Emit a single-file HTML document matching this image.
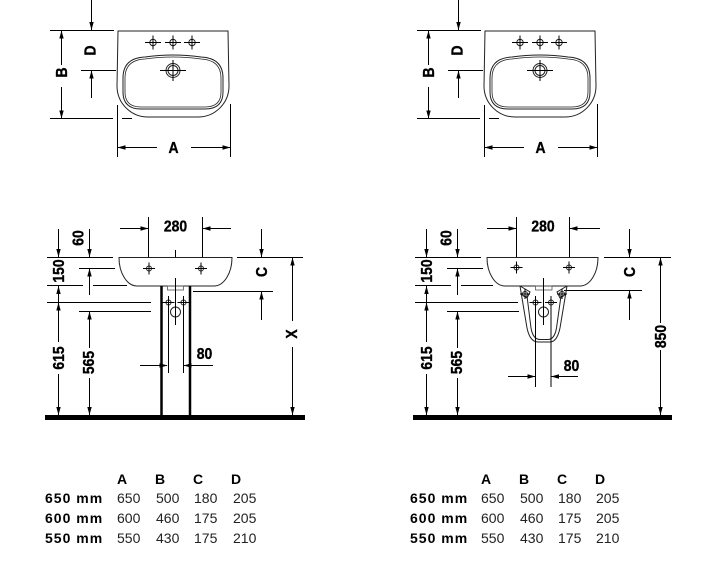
<!DOCTYPE html>
<html>
<head>
<meta charset="utf-8">
<style>
html,body{margin:0;padding:0;background:#fff;}
body{width:709px;height:578px;overflow:hidden;}
svg{display:block;}
.dl{font-family:"Liberation Sans",sans-serif;font-weight:bold;font-size:15.5px;fill:#000;stroke:#000;stroke-width:0.35px;}
.tb{font-family:"Liberation Sans",sans-serif;font-size:14px;fill:#222;}
.tbb{font-family:"Liberation Sans",sans-serif;font-size:14px;font-weight:bold;fill:#000;letter-spacing:1px;}
.th{font-family:"Liberation Sans",sans-serif;font-size:14px;font-weight:bold;fill:#000;}
</style>
</head>
<body>
<svg width="709" height="578" viewBox="0 0 709 578" xmlns="http://www.w3.org/2000/svg">

<!-- ================= TOP LEFT PLAN ================= -->
<g id="topL">
 <g stroke="#000" stroke-width="1" fill="none">
  <line x1="91.5" y1="0" x2="91.5" y2="30"/>
  <line x1="50" y1="30.5" x2="114" y2="30.5"/>
  <line x1="81" y1="70.5" x2="116" y2="70.5"/>
  <line x1="91.5" y1="71" x2="91.5" y2="98"/>
  <line x1="50" y1="118.5" x2="113" y2="118.5"/>
  <line x1="122" y1="118.5" x2="132" y2="118.5"/>
  <line x1="61.5" y1="31" x2="61.5" y2="65"/>
  <line x1="61.5" y1="87" x2="61.5" y2="118"/>
  <line x1="117.5" y1="105" x2="117.5" y2="157"/>
  <line x1="230.5" y1="104" x2="230.5" y2="157"/>
  <line x1="118" y1="147.5" x2="157" y2="147.5"/>
  <line x1="191" y1="147.5" x2="230" y2="147.5"/>
 </g>
 <g fill="#000">
  <polygon points="91.5,30 89.3,22 93.7,22"/>
  <polygon points="91.5,70.5 89.3,78.5 93.7,78.5"/>
  <polygon points="61.5,30.5 59.3,38.5 63.7,38.5"/>
  <polygon points="61.5,118.5 59.3,110.5 63.7,110.5"/>
  <polygon points="117.5,147.5 125.5,145.3 125.5,149.7"/>
  <polygon points="230.5,147.5 222.5,145.3 222.5,149.7"/>
 </g>
 <g stroke="#222" stroke-width="1" fill="none">
  <path d="M118,31 H228 L229,86 A31,31 0 0 1 198,117 H148 A31,31 0 0 1 117,86 Z"/>
  <path d="M123,78 Q123,58 145,57 Q173,53 201,57 Q223,58 223,78 V92 Q223,109 205,109 H141 Q123,109 123,92 Z"/>
  <path d="M125,78 Q125,60 145,59 Q173,55 201,59 Q221,60 221,78 V92 Q221,107 205,107 H141 Q125,107 125,92 Z" stroke-width="0.8"/>
  <circle cx="153" cy="42.5" r="3.2"/>
  <circle cx="173" cy="42.5" r="3.2"/>
  <circle cx="192" cy="42.5" r="3.2"/>
  <circle cx="173" cy="70.5" r="7"/>
  <circle cx="173" cy="70.5" r="5"/>
 </g>
 <g stroke="#000" stroke-width="1">
  <line x1="145" y1="42.5" x2="161" y2="42.5"/><line x1="153" y1="35.5" x2="153" y2="49.5"/>
  <line x1="165" y1="42.5" x2="181" y2="42.5"/><line x1="173" y1="35.5" x2="173" y2="49.5"/>
  <line x1="184" y1="42.5" x2="200" y2="42.5"/><line x1="192" y1="35.5" x2="192" y2="49.5"/>
  <line x1="160" y1="70.5" x2="186" y2="70.5"/><line x1="173" y1="60" x2="173" y2="81"/>
 </g>
 <text class="dl" text-anchor="middle" transform="translate(90,50.5) rotate(-90) scale(0.9,1)" y="5.6">D</text>
 <text class="dl" text-anchor="middle" transform="translate(61.5,72.5) rotate(-90) scale(0.9,1)" y="5.6">B</text>
 <text class="dl" text-anchor="middle" transform="translate(173.5,147.5) scale(0.9,1)" y="5.6">A</text>
</g>

<!-- ================= TOP RIGHT PLAN ================= -->
<g transform="translate(367,0)">
 <g stroke="#000" stroke-width="1" fill="none">
  <line x1="91.5" y1="0" x2="91.5" y2="30"/>
  <line x1="50" y1="30.5" x2="114" y2="30.5"/>
  <line x1="81" y1="70.5" x2="116" y2="70.5"/>
  <line x1="91.5" y1="71" x2="91.5" y2="98"/>
  <line x1="50" y1="118.5" x2="113" y2="118.5"/>
  <line x1="122" y1="118.5" x2="132" y2="118.5"/>
  <line x1="61.5" y1="31" x2="61.5" y2="65"/>
  <line x1="61.5" y1="87" x2="61.5" y2="118"/>
  <line x1="117.5" y1="105" x2="117.5" y2="157"/>
  <line x1="230.5" y1="104" x2="230.5" y2="157"/>
  <line x1="118" y1="147.5" x2="157" y2="147.5"/>
  <line x1="191" y1="147.5" x2="230" y2="147.5"/>
 </g>
 <g fill="#000">
  <polygon points="91.5,30 89.3,22 93.7,22"/>
  <polygon points="91.5,70.5 89.3,78.5 93.7,78.5"/>
  <polygon points="61.5,30.5 59.3,38.5 63.7,38.5"/>
  <polygon points="61.5,118.5 59.3,110.5 63.7,110.5"/>
  <polygon points="117.5,147.5 125.5,145.3 125.5,149.7"/>
  <polygon points="230.5,147.5 222.5,145.3 222.5,149.7"/>
 </g>
 <g stroke="#222" stroke-width="1" fill="none">
  <path d="M118,31 H228 L229,86 A31,31 0 0 1 198,117 H148 A31,31 0 0 1 117,86 Z"/>
  <path d="M123,78 Q123,58 145,57 Q173,53 201,57 Q223,58 223,78 V92 Q223,109 205,109 H141 Q123,109 123,92 Z"/>
  <path d="M125,78 Q125,60 145,59 Q173,55 201,59 Q221,60 221,78 V92 Q221,107 205,107 H141 Q125,107 125,92 Z" stroke-width="0.8"/>
  <circle cx="153" cy="42.5" r="3.2"/>
  <circle cx="173" cy="42.5" r="3.2"/>
  <circle cx="192" cy="42.5" r="3.2"/>
  <circle cx="173" cy="70.5" r="7"/>
  <circle cx="173" cy="70.5" r="5"/>
 </g>
 <g stroke="#000" stroke-width="1">
  <line x1="145" y1="42.5" x2="161" y2="42.5"/><line x1="153" y1="35.5" x2="153" y2="49.5"/>
  <line x1="165" y1="42.5" x2="181" y2="42.5"/><line x1="173" y1="35.5" x2="173" y2="49.5"/>
  <line x1="184" y1="42.5" x2="200" y2="42.5"/><line x1="192" y1="35.5" x2="192" y2="49.5"/>
  <line x1="160" y1="70.5" x2="186" y2="70.5"/><line x1="173" y1="60" x2="173" y2="81"/>
 </g>
 <text class="dl" text-anchor="middle" transform="translate(90,50.5) rotate(-90) scale(0.9,1)" y="5.6">D</text>
 <text class="dl" text-anchor="middle" transform="translate(61.5,72.5) rotate(-90) scale(0.9,1)" y="5.6">B</text>
 <text class="dl" text-anchor="middle" transform="translate(173.5,147.5) scale(0.9,1)" y="5.6">A</text>
</g>

<!-- ================= BOTTOM LEFT ELEVATION ================= -->
<g>
 <g stroke="#000" stroke-width="1" fill="none">
  <line x1="148.5" y1="217" x2="148.5" y2="257"/>
  <line x1="202.5" y1="217" x2="202.5" y2="257"/>
  <line x1="175.5" y1="250" x2="175.5" y2="257"/>
  <line x1="120" y1="228.5" x2="148" y2="228.5"/>
  <line x1="203" y1="228.5" x2="231" y2="228.5"/>
  <line x1="47" y1="257.5" x2="113" y2="257.5"/>
  <line x1="237" y1="257.5" x2="303" y2="257.5"/>
  <line x1="58.5" y1="229" x2="58.5" y2="257"/>
  <line x1="58.5" y1="286" x2="58.5" y2="342"/>
  <line x1="58.5" y1="374" x2="58.5" y2="415"/>
  <line x1="89.5" y1="229" x2="89.5" y2="257"/>
  <line x1="89.5" y1="268.5" x2="89.5" y2="295"/>
  <line x1="89.5" y1="311.5" x2="89.5" y2="348"/>
  <line x1="89.5" y1="378" x2="89.5" y2="415"/>
  <line x1="79" y1="268.5" x2="115" y2="268.5"/>
  <line x1="47" y1="285.5" x2="83" y2="285.5"/>
  <line x1="93" y1="285.5" x2="127" y2="285.5"/>
  <line x1="47" y1="302.5" x2="151" y2="302.5"/>
  <line x1="79" y1="311.5" x2="151" y2="311.5"/>
  <line x1="261.5" y1="229" x2="261.5" y2="257"/>
  <line x1="261.5" y1="291.5" x2="261.5" y2="320"/>
  <line x1="193" y1="291.5" x2="273" y2="291.5"/>
  <line x1="292.5" y1="257.5" x2="292.5" y2="321"/>
  <line x1="292.5" y1="347" x2="292.5" y2="415"/>
 </g>
 <g fill="#000">
  <polygon points="148.5,228.5 140.5,226.3 140.5,230.7"/>
  <polygon points="202.5,228.5 210.5,226.3 210.5,230.7"/>
  <polygon points="58.5,257 56.3,249 60.7,249"/>
  <polygon points="58.5,286 56.3,294 60.7,294"/>
  <polygon points="58.5,302.5 56.3,310.5 60.7,310.5"/>
  <polygon points="58.5,415 56.3,407 60.7,407"/>
  <polygon points="89.5,257 87.3,249 91.7,249"/>
  <polygon points="89.5,268.5 87.3,276.5 91.7,276.5"/>
  <polygon points="89.5,311.5 87.3,319.5 91.7,319.5"/>
  <polygon points="89.5,415 87.3,407 91.7,407"/>
  <polygon points="261.5,257 259.3,249 263.7,249"/>
  <polygon points="261.5,291.5 259.3,299.5 263.7,299.5"/>
  <polygon points="292.5,257.5 290.3,265.5 294.7,265.5"/>
  <polygon points="292.5,415 290.3,407 294.7,407"/>
  <rect x="45" y="415" width="260" height="5"/>
 </g>
 <g stroke="#222" stroke-width="1" fill="none">
  <path d="M119,257.5 H232 A18,28.5 0 0 1 214,286 H137 A18,28.5 0 0 1 119,257.5 Z"/>
  <circle cx="149" cy="268.5" r="2.5"/>
  <circle cx="201" cy="268.5" r="2.5"/>
  <rect x="167.5" y="286" width="16" height="4" stroke="#555" stroke-width="0.8"/>
  <circle cx="168.5" cy="302.5" r="2.5"/>
  <circle cx="183.5" cy="302.5" r="2.5"/>
  <circle cx="175.5" cy="312" r="5"/>
 </g>
 <g stroke="#000" stroke-width="1">
  <line x1="143" y1="268.5" x2="155" y2="268.5"/><line x1="149" y1="262.5" x2="149" y2="274.5"/>
  <line x1="195" y1="268.5" x2="207" y2="268.5"/><line x1="201" y1="262.5" x2="201" y2="274.5"/>
  <line x1="162.5" y1="302.5" x2="174.5" y2="302.5"/><line x1="177.5" y1="302.5" x2="189.5" y2="302.5"/>
  <line x1="175.5" y1="278" x2="175.5" y2="325"/>
  <line x1="168.5" y1="296" x2="168.5" y2="373"/>
  <line x1="183.5" y1="296" x2="183.5" y2="373"/>
  <line x1="140" y1="365.5" x2="167" y2="365.5"/>
  <line x1="184" y1="365.5" x2="213" y2="365.5"/>
 </g>
 <g fill="#000">
  <polygon points="167.5,365.5 159.5,363.3 159.5,367.7"/>
  <polygon points="183.5,365.5 191.5,363.3 191.5,367.7"/>
 </g>
 <g stroke="#000" stroke-width="2.5">
  <line x1="161.5" y1="286" x2="161.5" y2="415"/>
  <line x1="190" y1="286" x2="190" y2="415"/>
 </g>
 <text class="dl" text-anchor="middle" transform="translate(175.5,226) scale(0.9,1)" y="5.6">280</text>
 <text class="dl" text-anchor="middle" transform="translate(78,238) rotate(-90) scale(0.9,1)" y="5.6">60</text>
 <text class="dl" text-anchor="middle" transform="translate(58.5,271) rotate(-90) scale(0.9,1)" y="5.6">150</text>
 <text class="dl" text-anchor="middle" transform="translate(58.5,358) rotate(-90) scale(0.9,1)" y="5.6">615</text>
 <text class="dl" text-anchor="middle" transform="translate(88.5,362.5) rotate(-90) scale(0.9,1)" y="5.6">565</text>
 <text class="dl" text-anchor="middle" transform="translate(204.5,353.5) scale(0.9,1)" y="5.6">80</text>
 <text class="dl" text-anchor="middle" transform="translate(261.5,272) rotate(-90) scale(0.9,1)" y="5.6">C</text>
 <text class="dl" text-anchor="middle" transform="translate(291.5,334) rotate(-90) scale(0.9,1)" y="5.6">X</text>
</g>

<!-- ================= BOTTOM RIGHT ELEVATION ================= -->
<g transform="translate(368,0)">
 <g stroke="#000" stroke-width="1" fill="none">
  <line x1="148.5" y1="217" x2="148.5" y2="257"/>
  <line x1="201.5" y1="217" x2="201.5" y2="257"/>
  <line x1="119" y1="228.5" x2="148" y2="228.5"/>
  <line x1="202" y1="228.5" x2="232" y2="228.5"/>
  <line x1="47" y1="257.5" x2="113" y2="257.5"/>
  <line x1="236" y1="257.5" x2="303" y2="257.5"/>
  <line x1="58.5" y1="229" x2="58.5" y2="257"/>
  <line x1="58.5" y1="286" x2="58.5" y2="342"/>
  <line x1="58.5" y1="374" x2="58.5" y2="415"/>
  <line x1="89.5" y1="229" x2="89.5" y2="257"/>
  <line x1="89.5" y1="268.5" x2="89.5" y2="295"/>
  <line x1="89.5" y1="311.5" x2="89.5" y2="348"/>
  <line x1="89.5" y1="378" x2="89.5" y2="415"/>
  <line x1="79" y1="268.5" x2="115" y2="268.5"/>
  <line x1="47" y1="285.5" x2="83" y2="285.5"/>
  <line x1="93" y1="285.5" x2="125" y2="285.5"/>
  <line x1="47" y1="302.5" x2="150" y2="302.5"/>
  <line x1="79" y1="311.5" x2="151" y2="311.5"/>
  <line x1="261.5" y1="229" x2="261.5" y2="257"/>
  <line x1="261.5" y1="290.5" x2="261.5" y2="320"/>
  <line x1="196" y1="290.5" x2="274" y2="290.5"/>
  <line x1="292.5" y1="257.5" x2="292.5" y2="323"/>
  <line x1="292.5" y1="350" x2="292.5" y2="415"/>
 </g>
 <g fill="#000">
  <polygon points="148.5,228.5 140.5,226.3 140.5,230.7"/>
  <polygon points="201.5,228.5 209.5,226.3 209.5,230.7"/>
  <polygon points="58.5,257 56.3,249 60.7,249"/>
  <polygon points="58.5,286 56.3,294 60.7,294"/>
  <polygon points="58.5,302.5 56.3,310.5 60.7,310.5"/>
  <polygon points="58.5,415 56.3,407 60.7,407"/>
  <polygon points="89.5,257 87.3,249 91.7,249"/>
  <polygon points="89.5,268.5 87.3,276.5 91.7,276.5"/>
  <polygon points="89.5,311.5 87.3,319.5 91.7,319.5"/>
  <polygon points="89.5,415 87.3,407 91.7,407"/>
  <polygon points="261.5,257 259.3,249 263.7,249"/>
  <polygon points="261.5,290.5 259.3,298.5 263.7,298.5"/>
  <polygon points="292.5,257.5 290.3,265.5 294.7,265.5"/>
  <polygon points="292.5,415 290.3,407 294.7,407"/>
  <rect x="45" y="415" width="259" height="5"/>
 </g>
 <g stroke="#222" stroke-width="1" fill="none">
  <path d="M119,257.5 H230 A18,28.5 0 0 1 212,286 H137 A18,28.5 0 0 1 119,257.5 Z"/>
  <circle cx="148.5" cy="267.5" r="2.5"/>
  <circle cx="201" cy="267.5" r="2.5"/>
 </g>
 <g stroke="#000" stroke-width="1">
  <line x1="142.5" y1="267.5" x2="154.5" y2="267.5"/><line x1="148.5" y1="261.5" x2="148.5" y2="273.5"/>
  <line x1="195" y1="267.5" x2="207" y2="267.5"/><line x1="201" y1="261.5" x2="201" y2="273.5"/>
 </g>
 <text class="dl" text-anchor="middle" transform="translate(175,226) scale(0.9,1)" y="5.6">280</text>
 <text class="dl" text-anchor="middle" transform="translate(78,238) rotate(-90) scale(0.9,1)" y="5.6">60</text>
 <text class="dl" text-anchor="middle" transform="translate(58.5,271) rotate(-90) scale(0.9,1)" y="5.6">150</text>
 <text class="dl" text-anchor="middle" transform="translate(58.5,358) rotate(-90) scale(0.9,1)" y="5.6">615</text>
 <text class="dl" text-anchor="middle" transform="translate(88.5,362.5) rotate(-90) scale(0.9,1)" y="5.6">565</text>
 <text class="dl" text-anchor="middle" transform="translate(261.5,272) rotate(-90) scale(0.9,1)" y="5.6">C</text>
 <text class="dl" text-anchor="middle" transform="translate(292.5,336.5) rotate(-90) scale(0.9,1)" y="5.6">850</text>
</g>
<!-- semi pedestal (absolute) -->
<g stroke="#222" stroke-width="1" fill="none">
 <path d="M520,286 L527,328 Q530,342 538,342 H550 Q557,342 560,328 L567,286"/>
 <path d="M527,296 L531,328 Q533,339.5 540,339.5 H548 Q554.5,339.5 556.5,328 L561,296"/>
 <path d="M520,286 L530,292 L527,298 L521,294"/>
 <path d="M567,286 L557,292 L560,298 L566,294"/>
 <circle cx="525" cy="294" r="2.5"/>
 <circle cx="562" cy="294" r="2.5"/>
 <rect x="535.5" y="286" width="16.5" height="4" stroke="#555" stroke-width="0.8"/>
 <circle cx="535.5" cy="302.5" r="2.5"/>
 <circle cx="551" cy="302.5" r="2.5"/>
 <circle cx="543.5" cy="312" r="5"/>
</g>
<g stroke="#000" stroke-width="1">
 <line x1="520" y1="294" x2="530" y2="294"/><line x1="525" y1="289" x2="525" y2="299"/>
 <line x1="557" y1="294" x2="567" y2="294"/><line x1="562" y1="289" x2="562" y2="299"/>
 <line x1="529.5" y1="302.5" x2="541.5" y2="302.5"/><line x1="545" y1="302.5" x2="557" y2="302.5"/>
 <line x1="543.5" y1="278" x2="543.5" y2="325"/>
 <line x1="535.5" y1="296" x2="535.5" y2="387"/>
 <line x1="551" y1="296" x2="551" y2="387"/>
 <line x1="508" y1="376.5" x2="535" y2="376.5"/>
 <line x1="551.5" y1="376.5" x2="578" y2="376.5"/>
</g>
<g fill="#000">
 <polygon points="535.5,376.5 527.5,374.3 527.5,378.7"/>
 <polygon points="551,376.5 559,374.3 559,378.7"/>
</g>
<text class="dl" text-anchor="middle" transform="translate(571.5,365.5) scale(0.9,1)" y="5.6">80</text>

<!-- ================= TABLES ================= -->
<g>
 <text class="th" x="117" y="484">A</text>
 <text class="th" x="155" y="484">B</text>
 <text class="th" x="193" y="484">C</text>
 <text class="th" x="231" y="484">D</text>
 <text class="tbb" x="45" y="503">650 mm</text>
 <text class="tbb" x="45" y="523">600 mm</text>
 <text class="tbb" x="45" y="543">550 mm</text>
 <text class="tb" x="117" y="503">650</text><text class="tb" x="156" y="503">500</text><text class="tb" x="194" y="503">180</text><text class="tb" x="233" y="503">205</text>
 <text class="tb" x="117" y="523">600</text><text class="tb" x="156" y="523">460</text><text class="tb" x="194" y="523">175</text><text class="tb" x="233" y="523">205</text>
 <text class="tb" x="117" y="543">550</text><text class="tb" x="156" y="543">430</text><text class="tb" x="194" y="543">175</text><text class="tb" x="233" y="543">210</text>
</g>
<g>
 <text class="th" x="481" y="484">A</text>
 <text class="th" x="519" y="484">B</text>
 <text class="th" x="557" y="484">C</text>
 <text class="th" x="595" y="484">D</text>
 <text class="tbb" x="410" y="503">650 mm</text>
 <text class="tbb" x="410" y="523">600 mm</text>
 <text class="tbb" x="410" y="543">550 mm</text>
 <text class="tb" x="481" y="503">650</text><text class="tb" x="520" y="503">500</text><text class="tb" x="558" y="503">180</text><text class="tb" x="596" y="503">205</text>
 <text class="tb" x="481" y="523">600</text><text class="tb" x="520" y="523">460</text><text class="tb" x="558" y="523">175</text><text class="tb" x="596" y="523">205</text>
 <text class="tb" x="481" y="543">550</text><text class="tb" x="520" y="543">430</text><text class="tb" x="558" y="543">175</text><text class="tb" x="596" y="543">210</text>
</g>
</svg>
</body>
</html>
